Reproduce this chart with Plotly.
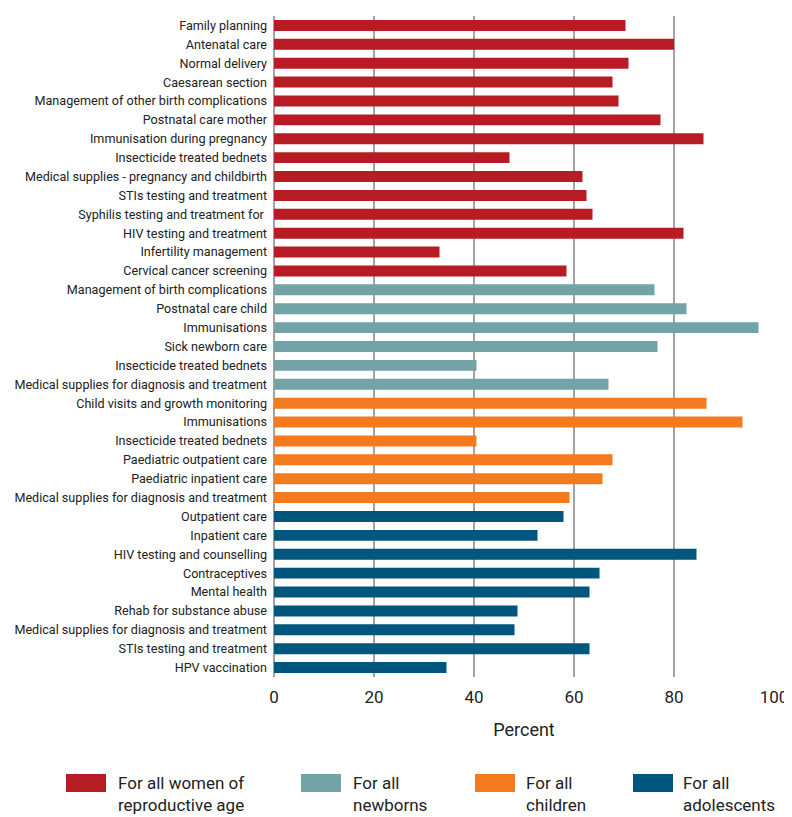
import plotly.graph_objects as go

labels = [
    "Family planning", "Antenatal care", "Normal delivery", "Caesarean section",
    "Management of other birth complications", "Postnatal care mother",
    "Immunisation during pregnancy", "Insecticide treated bednets",
    "Medical supplies - pregnancy and childbirth", "STIs testing and treatment",
    "Syphilis testing and treatment for ", "HIV testing and treatment",
    "Infertility management", "Cervical cancer screening",
    "Management of birth complications", "Postnatal care child", "Immunisations",
    "Sick newborn care", "Insecticide treated bednets",
    "Medical supplies for diagnosis and treatment",
    "Child visits and growth monitoring", "Immunisations", "Insecticide treated bednets",
    "Paediatric outpatient care", "Paediatric inpatient care",
    "Medical supplies for diagnosis and treatment",
    "Outpatient care", "Inpatient care", "HIV testing and counselling", "Contraceptives",
    "Mental health", "Rehab for substance abuse",
    "Medical supplies for diagnosis and treatment", "STIs testing and treatment",
    "HPV vaccination",
]
values = [
    70.3, 80.0, 70.9, 67.7, 68.9, 77.3, 85.9, 47.1, 61.7, 62.5, 63.7, 81.9, 33.1, 58.5,
    76.1, 82.5, 96.9, 76.7, 40.5, 66.9,
    86.5, 93.7, 40.5, 67.7, 65.7, 59.1,
    57.9, 52.7, 84.5, 65.1, 63.1, 48.7, 48.1, 63.1, 34.5,
]
groups = ["women"] * 14 + ["newborns"] * 6 + ["children"] * 6 + ["adolescents"] * 9

group_names = ["women", "newborns", "children", "adolescents"]
legend_text = ["For all women of<br>reproductive age", "For all<br>newborns",
               "For all<br>children", "For all<br>adolescents"]
colors = {"women": "#B71C24", "newborns": "#72A3A6",
          "children": "#F47A20", "adolescents": "#00567D"}

fig = go.Figure()
for g in group_names:
    idx = [i for i, gg in enumerate(groups) if gg == g]
    fig.add_trace(go.Bar(
        x=[values[i] for i in idx], y=idx, orientation="h",
        marker=dict(color=colors[g], line=dict(width=0)),
        name=g, showlegend=False,
    ))

# page body adds an 8px offset; size the figure to fit the window
OFF = 8
W, H = 792 - OFF, 817 - OFF
L, R, T, B = 266, 18, 8, 140
pw, ph = W - L - R, H - T - B

def px(x):
    return (x - OFF - L) / pw

def py(y):
    return (H - B - (y - OFF)) / ph

legend_rects = [(66, 106), (301, 341), (475, 515), (633, 673)]
legend_text_x = [116, 351, 524, 681]
shapes = []
annotations = []
for g, (x0, x1), tx, txt in zip(group_names, legend_rects, legend_text_x, legend_text):
    shapes.append(dict(type="rect", xref="paper", yref="paper",
                       x0=px(x0), x1=px(x1), y0=py(792), y1=py(774),
                       fillcolor=colors[g], line=dict(width=0)))
    annotations.append(dict(xref="paper", yref="paper", x=px(tx), y=py(771),
                            xanchor="left", yanchor="top", align="left",
                            text=txt, showarrow=False,
                            font=dict(family="Roboto, sans-serif", size=17, color="#222")))

fig.update_layout(
    width=W, height=H,
    margin=dict(l=L, r=R, t=T, b=B),
    plot_bgcolor="white", paper_bgcolor="white",
    bargap=0.42,
    shapes=shapes, annotations=annotations,
    xaxis=dict(range=[0, 100], tickvals=[0, 20, 40, 60, 80, 100],
               automargin=False,
               showgrid=True, gridcolor="#A3A3A3", gridwidth=1.5,
               zeroline=True, zerolinecolor="#A3A3A3", zerolinewidth=1.5,
               showline=False, ticks="", ticklabelstandoff=8,
               tickfont=dict(family="Roboto, sans-serif", size=17, color="#222"),
               title=dict(text="Percent", standoff=17,
                          font=dict(family="Roboto, sans-serif", size=18, color="#222"))),
    yaxis=dict(range=[34.5, -0.5], tickvals=list(range(len(labels))), ticktext=labels,
               automargin=False,
               showgrid=False, zeroline=False, showline=False, ticks="",
               ticklabelstandoff=6,
               tickfont=dict(family="Roboto, sans-serif", size=12.6, color="#222")),
)

fig.write_html("out.html")
